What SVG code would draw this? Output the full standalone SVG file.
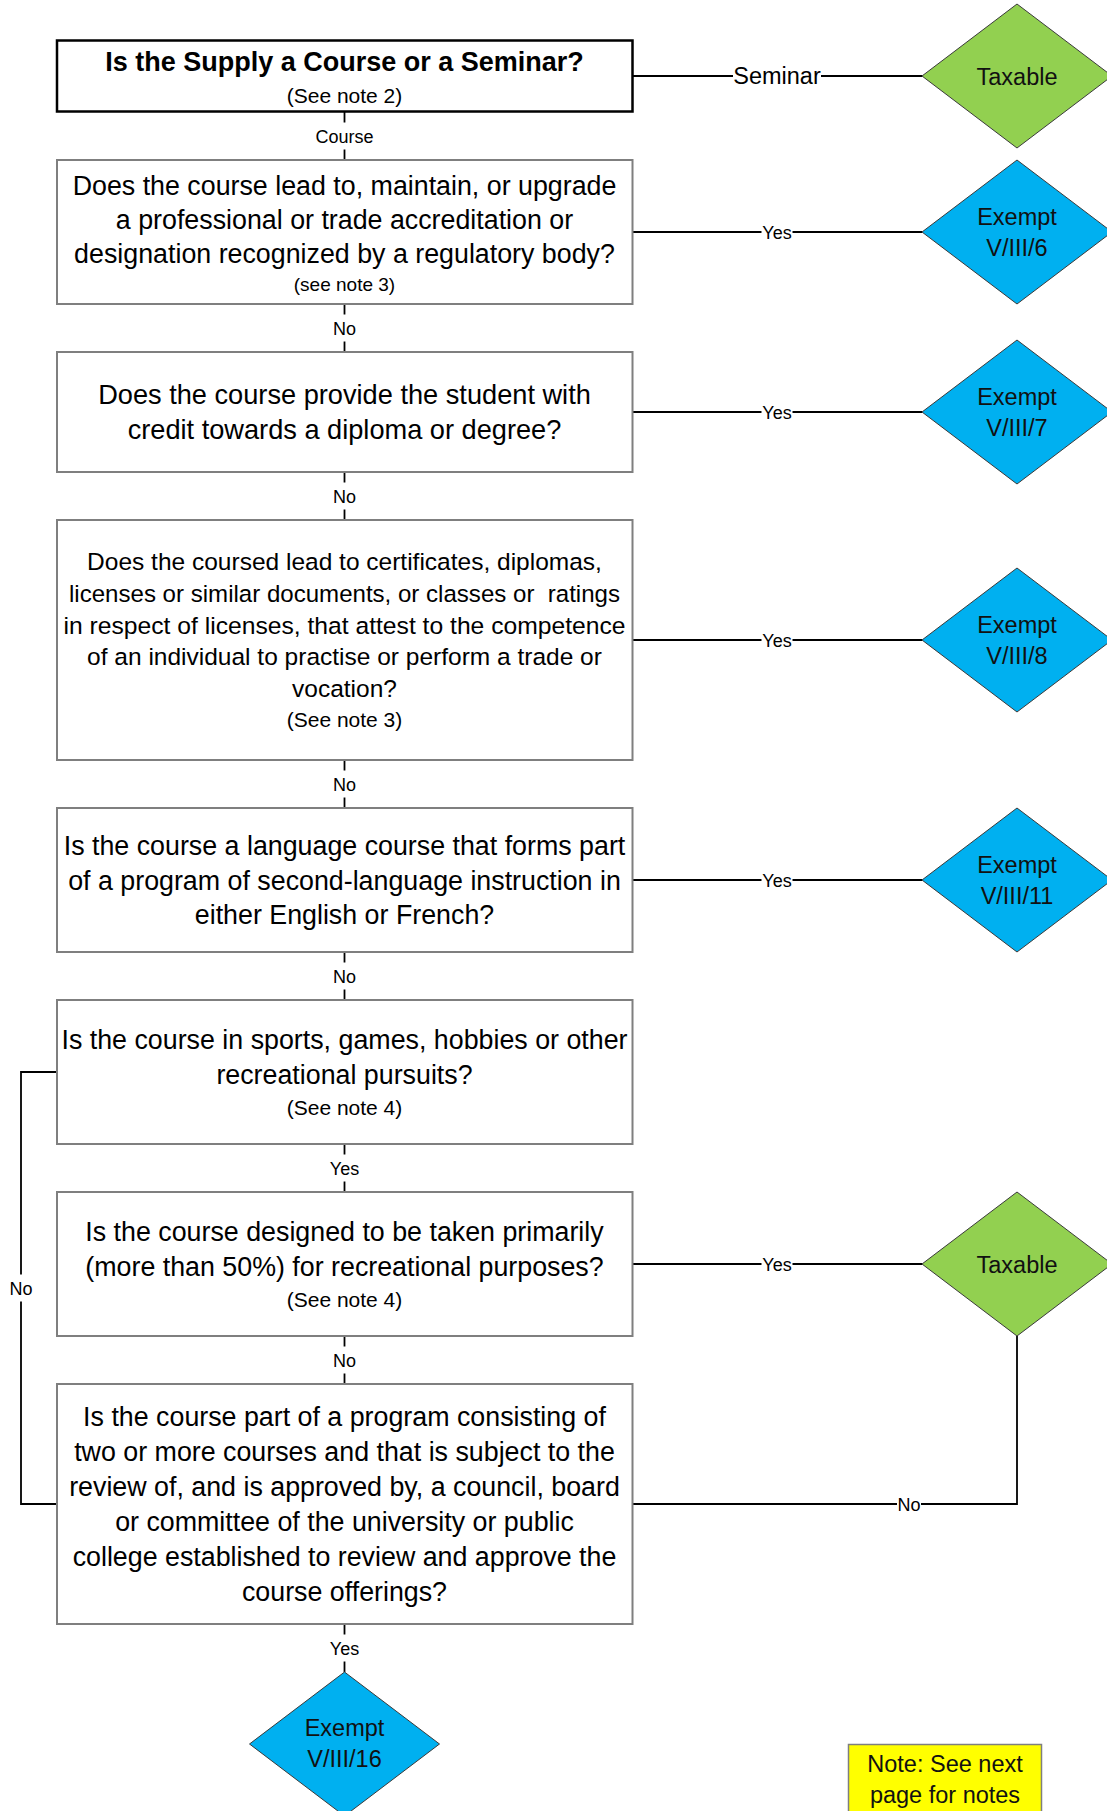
<svg xmlns="http://www.w3.org/2000/svg" width="1107" height="1811" viewBox="0 0 1107 1811">
<style>
  .box { fill: #ffffff; stroke: #7f7f7f; stroke-width: 2; }
  .box1 { fill: #ffffff; stroke: #000000; stroke-width: 2.5; }
  .t { font-family: "Liberation Sans", Arial, sans-serif; font-size: 26.8px; fill: #000; text-anchor: middle; }
  .t4 { font-family: "Liberation Sans", Arial, sans-serif; font-size: 24.5px; fill: #000; text-anchor: middle; }
  .title { font-family: "Liberation Sans", Arial, sans-serif; font-size: 27px; font-weight: bold; fill: #000; text-anchor: middle; }
  .note { font-family: "Liberation Sans", Arial, sans-serif; font-size: 21px; fill: #000; text-anchor: middle; }
  .note3 { font-family: "Liberation Sans", Arial, sans-serif; font-size: 19px; fill: #000; text-anchor: middle; }
  .dia-g { fill: #92D050; stroke: #3a3a3a; stroke-width: 1; }
  .dia-b { fill: #00B0F0; stroke: #3a3a3a; stroke-width: 1; }
  .dt { font-family: "Liberation Sans", Arial, sans-serif; font-size: 23.5px; fill: #111; text-anchor: middle; }
  .conn { fill: none; stroke: #000; stroke-width: 1.8; }
  .lbl { font-family: "Liberation Sans", Arial, sans-serif; font-size: 18px; fill: #000; text-anchor: middle; }
  .lblbig { font-family: "Liberation Sans", Arial, sans-serif; font-size: 23.5px; fill: #000; text-anchor: middle; }
  .bg { fill: #ffffff; stroke: none; }
  .notebox { fill: #FFFF00; stroke: #7f7f7f; stroke-width: 1.5; }
</style>

<g id="connectors">
  <line class="conn" x1="344.5" y1="112" x2="344.5" y2="160"/>
  <line class="conn" x1="344.5" y1="304" x2="344.5" y2="352"/>
  <line class="conn" x1="344.5" y1="472" x2="344.5" y2="520"/>
  <line class="conn" x1="344.5" y1="760" x2="344.5" y2="808"/>
  <line class="conn" x1="344.5" y1="952" x2="344.5" y2="1000"/>
  <line class="conn" x1="344.5" y1="1144" x2="344.5" y2="1192"/>
  <line class="conn" x1="344.5" y1="1336" x2="344.5" y2="1384"/>
  <line class="conn" x1="344.5" y1="1624" x2="344.5" y2="1672"/>
  <line class="conn" x1="632.5" y1="76" x2="922" y2="76"/>
  <line class="conn" x1="632.5" y1="232" x2="922" y2="232"/>
  <line class="conn" x1="632.5" y1="412" x2="922" y2="412"/>
  <line class="conn" x1="632.5" y1="640" x2="922" y2="640"/>
  <line class="conn" x1="632.5" y1="880" x2="922" y2="880"/>
  <line class="conn" x1="632.5" y1="1264" x2="922" y2="1264"/>
  <polyline class="conn" points="57,1072 21,1072 21,1504 57,1504"/>
  <polyline class="conn" points="632.5,1504 1017,1504 1017,1336"/>

  <rect class="bg" x="314" y="122.5" width="61" height="27"/>
  <text class="lbl" x="344.5" y="142.5">Course</text>
  <rect class="bg" x="332" y="314.5" width="25" height="27"/>
  <text class="lbl" x="344.5" y="334.5">No</text>
  <rect class="bg" x="332" y="482.5" width="25" height="27"/>
  <text class="lbl" x="344.5" y="502.5">No</text>
  <rect class="bg" x="332" y="770.5" width="25" height="27"/>
  <text class="lbl" x="344.5" y="790.5">No</text>
  <rect class="bg" x="332" y="962.5" width="25" height="27"/>
  <text class="lbl" x="344.5" y="982.5">No</text>
  <rect class="bg" x="328" y="1154.5" width="33" height="27"/>
  <text class="lbl" x="344.5" y="1174.5">Yes</text>
  <rect class="bg" x="332" y="1346.5" width="25" height="27"/>
  <text class="lbl" x="344.5" y="1366.5">No</text>
  <rect class="bg" x="328" y="1634.5" width="33" height="27"/>
  <text class="lbl" x="344.5" y="1654.5">Yes</text>

  <rect class="bg" x="733" y="72" width="88" height="8"/>
  <text class="lblbig" x="777" y="84.3">Seminar</text>
  <rect class="bg" x="761.5" y="228" width="31" height="8"/>
  <text class="lbl" x="777" y="238.5">Yes</text>
  <rect class="bg" x="761.5" y="408" width="31" height="8"/>
  <text class="lbl" x="777" y="418.5">Yes</text>
  <rect class="bg" x="761.5" y="636" width="31" height="8"/>
  <text class="lbl" x="777" y="646.5">Yes</text>
  <rect class="bg" x="761.5" y="876" width="31" height="8"/>
  <text class="lbl" x="777" y="886.5">Yes</text>
  <rect class="bg" x="761.5" y="1260" width="31" height="8"/>
  <text class="lbl" x="777" y="1270.5">Yes</text>

  <rect class="bg" x="9" y="1274.5" width="24" height="27"/>
  <text class="lbl" x="21" y="1294.5">No</text>
  <rect class="bg" x="897" y="1500" width="24" height="8"/>
  <text class="lbl" x="909" y="1510.5">No</text>
</g>

<g id="q1">
  <rect class="box1" x="57" y="40.5" width="575.5" height="71"/>
  <text class="title" x="344.5" y="71">Is the Supply a Course or a Seminar?</text>
  <text class="note" x="344.5" y="103">(See note 2)</text>
</g>

<g id="q2">
  <rect class="box" x="57" y="160" width="575.5" height="144"/>
  <text class="t" x="344.5" y="194.5">Does the course lead to, maintain, or upgrade</text>
  <text class="t" x="344.5" y="228.7">a professional or trade accreditation or</text>
  <text class="t" x="344.5" y="262.9">designation recognized by a regulatory body?</text>
  <text class="note3" x="344.5" y="290.5">(see note 3)</text>
</g>

<g id="q3">
  <rect class="box" x="57" y="352" width="575.5" height="120"/>
  <text class="t" x="344.5" y="403.5" style="font-size:27.2px">Does the course provide the student with</text>
  <text class="t" x="344.5" y="439" style="font-size:27.2px">credit towards a diploma or degree?</text>
</g>

<g id="q4">
  <rect class="box" x="57" y="520" width="575.5" height="240"/>
  <text class="t4" x="344.5" y="570">Does the coursed lead to certificates, diplomas,</text>
  <text class="t4" x="344.5" y="601.8" xml:space="preserve" textLength="551" lengthAdjust="spacingAndGlyphs">licenses or similar documents, or classes or  ratings</text>
  <text class="t4" x="344.5" y="633.6" textLength="562" lengthAdjust="spacingAndGlyphs">in respect of licenses, that attest to the competence</text>
  <text class="t4" x="344.5" y="665.4">of an individual to practise or perform a trade or</text>
  <text class="t4" x="344.5" y="697.2">vocation?</text>
  <text class="note" x="344.5" y="726.5">(See note 3)</text>
</g>

<g id="q5">
  <rect class="box" x="57" y="808" width="575.5" height="144"/>
  <text class="t" x="344.5" y="855">Is the course a language course that forms part</text>
  <text class="t" x="344.5" y="889.5">of a program of second-language instruction in</text>
  <text class="t" x="344.5" y="924">either English or French?</text>
</g>

<g id="q6">
  <rect class="box" x="57" y="1000" width="575.5" height="144"/>
  <text class="t" x="344.5" y="1049">Is the course in sports, games, hobbies or other</text>
  <text class="t" x="344.5" y="1084">recreational pursuits?</text>
  <text class="note" x="344.5" y="1115">(See note 4)</text>
</g>

<g id="q7">
  <rect class="box" x="57" y="1192" width="575.5" height="144"/>
  <text class="t" x="344.5" y="1241">Is the course designed to be taken primarily</text>
  <text class="t" x="344.5" y="1275.5">(more than 50%) for recreational purposes?</text>
  <text class="note" x="344.5" y="1306.5">(See note 4)</text>
</g>

<g id="q8">
  <rect class="box" x="57" y="1384" width="575.5" height="240"/>
  <text class="t" x="344.5" y="1425.5">Is the course part of a program consisting of</text>
  <text class="t" x="344.5" y="1460.5">two or more courses and that is subject to the</text>
  <text class="t" x="344.5" y="1495.5">review of, and is approved by, a council, board</text>
  <text class="t" x="344.5" y="1530.5">or committee of the university or public</text>
  <text class="t" x="344.5" y="1565.5">college established to review and approve the</text>
  <text class="t" x="344.5" y="1600.5">course offerings?</text>
</g>

<g id="taxable1">
  <polygon class="dia-g" points="1017,4 1112,76 1017,148 922,76"/>
  <text class="dt" x="1017" y="84.5">Taxable</text>
</g>

<g id="exempt6">
  <polygon class="dia-b" points="1017,160 1112,232 1017,304 922,232"/>
  <text class="dt" x="1017" y="225">Exempt</text>
  <text class="dt" x="1017" y="256">V/III/6</text>
</g>

<g id="exempt7">
  <polygon class="dia-b" points="1017,340 1112,412 1017,484 922,412"/>
  <text class="dt" x="1017" y="405">Exempt</text>
  <text class="dt" x="1017" y="436">V/III/7</text>
</g>

<g id="exempt8">
  <polygon class="dia-b" points="1017,568 1112,640 1017,712 922,640"/>
  <text class="dt" x="1017" y="633">Exempt</text>
  <text class="dt" x="1017" y="664">V/III/8</text>
</g>

<g id="exempt11">
  <polygon class="dia-b" points="1017,808 1112,880 1017,952 922,880"/>
  <text class="dt" x="1017" y="873">Exempt</text>
  <text class="dt" x="1017" y="904">V/III/11</text>
</g>

<g id="taxable2">
  <polygon class="dia-g" points="1017,1192 1112,1264 1017,1336 922,1264"/>
  <text class="dt" x="1017" y="1272.5">Taxable</text>
</g>

<g id="exempt16">
  <polygon class="dia-b" points="344.5,1672 439.5,1744 344.5,1816 249.5,1744"/>
  <text class="dt" x="344.5" y="1736">Exempt</text>
  <text class="dt" x="344.5" y="1767">V/III/16</text>
</g>

<g id="note">
  <rect class="notebox" x="848.5" y="1744.5" width="193" height="75"/>
  <text class="dt" x="945" y="1772">Note: See next</text>
  <text class="dt" x="945" y="1803">page for notes</text>
</g>
</svg>
